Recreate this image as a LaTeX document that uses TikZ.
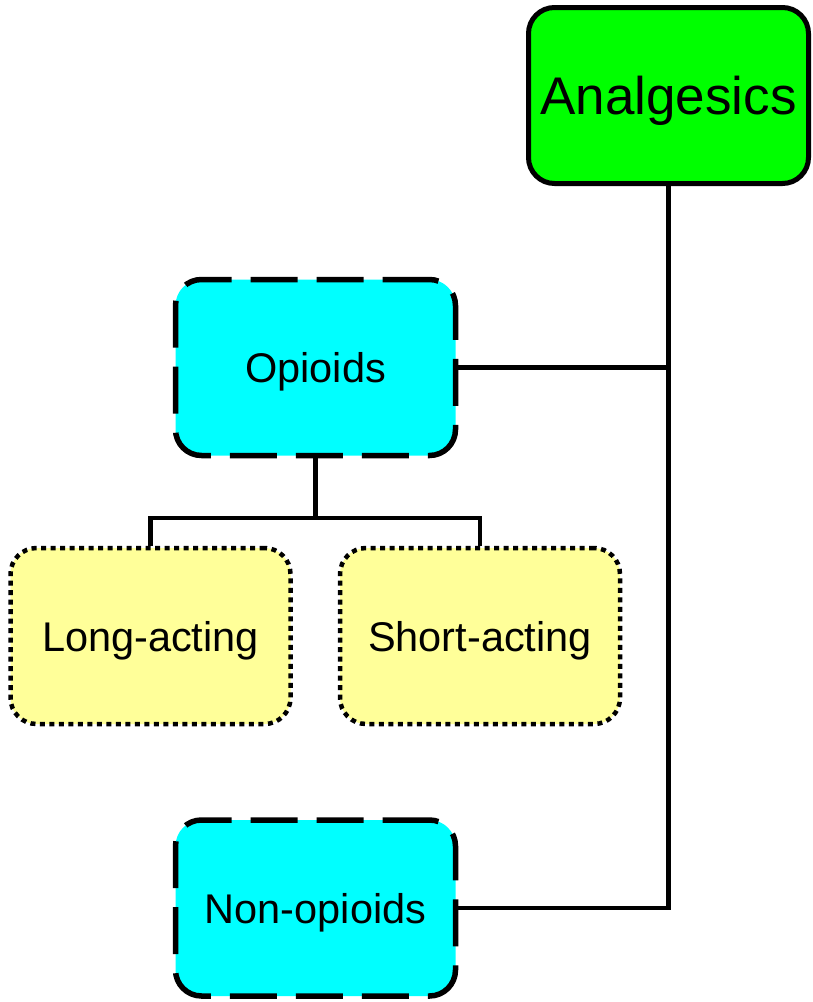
\documentclass[tikz,border=0pt]{standalone}
\usepackage{fontspec}
\setmainfont{Liberation Sans}
\usetikzlibrary{positioning}

\definecolor{rootgreen}{HTML}{00FF00}
\definecolor{classcyan}{HTML}{00FFFF}
\definecolor{kindyellow}{HTML}{FFFF99}

\tikzset{
  box/.style={draw=black, rounded corners=26pt, inner sep=0pt,
    minimum width=280pt, minimum height=176pt, align=center,
    text depth=0pt},
  rootbox/.style={box, fill=rootgreen, line width=5pt,
    font=\fontsize{53}{60}\selectfont},
  classbox/.style={box, fill=classcyan, line width=5.5pt,
    dash pattern=on 47pt off 19pt, font=\fontsize{41.5}{48}\selectfont},
  kindbox/.style={box, fill=kindyellow, line width=4.5pt,
    dash pattern=on 5pt off 4.5pt, font=\fontsize{41.5}{48}\selectfont},
  link/.style={draw=black, line width=4.5pt}
}

\begin{document}
\begin{tikzpicture}[x=1pt,y=-1pt]
		\useasboundingbox (0,0) rectangle (812,1002);

		\draw (668.5,95.5) node [rootbox] (analgesics){Analgesics};
		\draw (315.5,367.5) node [classbox] (opioids){Opioids};
		\draw (150.5,636) node [kindbox] (long){Long-acting};
		\draw (480,636) node [kindbox] (short){Short-acting};
		\draw (315.5,908) node [classbox] (nonopioids){Non-opioids};
		\coordinate (bus) at (315.5,518);

		\draw[link]
		(analgesics.south) |- (nonopioids.east)
		(opioids.east) -- (analgesics.south |- opioids.east)
		(opioids.south) -- (bus)
		(long.north) |- (bus) -| (short.north);
	\end{tikzpicture}
\end{document}
